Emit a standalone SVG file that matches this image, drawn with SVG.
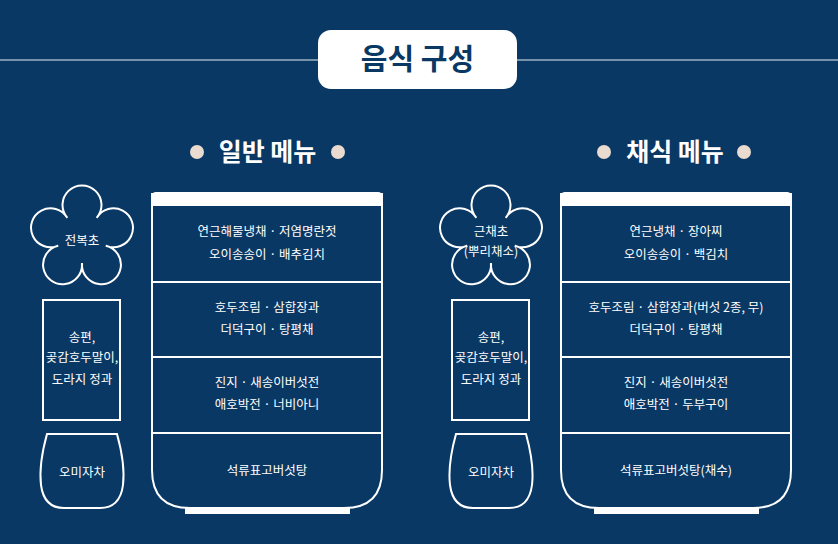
<svg xmlns="http://www.w3.org/2000/svg" width="838" height="544" viewBox="0 0 838 544">
<style>
text{font-family:"Noto Sans CJK KR","Noto Sans",sans-serif;fill:#fff;text-anchor:middle}
.t{font-size:12.5px}
.h{font-size:25px;font-weight:bold}
.o{fill:none;stroke:#fff;stroke-width:2}
.ic{fill:#eadbd0}
</style>
<defs>
<g id="menu">
<path class="o" d="M67.3,217.8 A19.5,19.5 0 1 1 96.7,217.8 A19.5,19.5 0 1 1 105.8,245.7 A19.5,19.5 0 1 1 82,263 A19.5,19.5 0 1 1 58.2,245.7 A19.5,19.5 0 1 1 67.3,217.8 Z"/>
<rect class="o" x="43" y="300" width="77" height="120"/>
<path class="o" d="M47,434 L117,434 C122,452 125,468 123,485 Q120,508 100,508 L64,508 Q44,508 41,485 C39,468 42,452 47,434 Z"/>
<path class="o" d="M152,194 H382 V470 Q382,508 344,508 H190 Q152,508 152,470 Z"/>
<path fill="#fff" d="M152,206 V196 Q152,192 156,192 H378 Q382,192 382,196 V206 Z"/>
<rect fill="#fff" x="185" y="507" width="165" height="7"/>
<path class="o" d="M152,282 H382 M152,357 H382 M152,433 H382"/>
</g>
</defs>
<rect width="838" height="544" fill="#0a3864"/>
<line x1="0" y1="60" x2="838" y2="60" stroke="#9fb0c4" stroke-width="1.5"/>
<g id="title"><rect x="318" y="30" width="199" height="59" rx="13" fill="#fff"/>
<text x="417.5" y="70" style="font-size:29px;font-weight:bold;fill:#0a3864">음식 구성</text></g>
<g id="general">
<use href="#menu"/>
<circle class="ic" cx="197" cy="152" r="7"/><circle class="ic" cx="338" cy="152" r="7"/>
<text class="h" x="267.5" y="161">일반 메뉴</text>
<text class="t" x="82" y="245">전복초</text>
<text class="t" x="82" y="342">송편,</text><text class="t" x="82" y="362">곶감호두말이,</text><text class="t" x="82" y="384">도라지 정과</text>
<text class="t" x="82" y="477">오미자차</text>
<text class="t" x="267" y="236">연근해물냉채 · 저염명란젓</text><text class="t" x="267" y="259">오이송송이 · 배추김치</text>
<text class="t" x="267" y="312">호두조림 · 삼합장과</text><text class="t" x="267" y="334">더덕구이 · 탕평채</text>
<text class="t" x="267" y="387">진지 · 새송이버섯전</text><text class="t" x="267" y="409">애호박전 · 너비아니</text>
<text class="t" x="267" y="475">석류표고버섯탕</text>
</g>
<g id="vegan">
<use href="#menu" x="409"/>
<circle class="ic" cx="604" cy="152" r="7"/><circle class="ic" cx="744" cy="152" r="7"/>
<text class="h" x="675" y="161">채식 메뉴</text>
<text class="t" x="491" y="236">근채초</text><text class="t" x="491" y="256">(뿌리채소)</text>
<text class="t" x="491" y="342">송편,</text><text class="t" x="491" y="362">곶감호두말이,</text><text class="t" x="491" y="384">도라지 정과</text>
<text class="t" x="491" y="477">오미자차</text>
<text class="t" x="676" y="236">연근냉채 · 장아찌</text><text class="t" x="676" y="259">오이송송이 · 백김치</text>
<text class="t" x="676" y="312">호두조림 · 삼합장과(버섯 2종, 무)</text><text class="t" x="676" y="334">더덕구이 · 탕평채</text>
<text class="t" x="676" y="387">진지 · 새송이버섯전</text><text class="t" x="676" y="409">애호박전 · 두부구이</text>
<text class="t" x="676" y="475">석류표고버섯탕(채수)</text>
</g>
</svg>
